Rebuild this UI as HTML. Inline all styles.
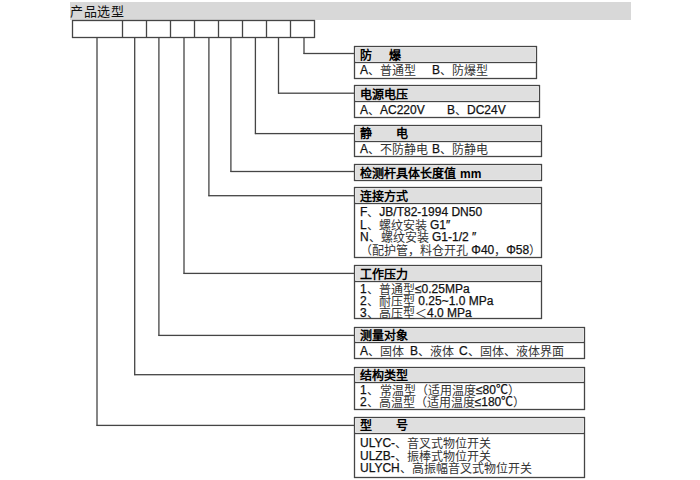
<!DOCTYPE html>
<html lang="zh-CN"><head><meta charset="utf-8">
<style>
html,body{margin:0;padding:0;background:#fff;width:700px;height:480px;overflow:hidden;position:relative;font-family:"Liberation Sans",sans-serif;color:#111;}
svg{position:absolute;left:0;top:0;}
.title{position:absolute;left:70px;top:5px;font-size:13px;line-height:13px;letter-spacing:0.5px;font-weight:500;color:#111;white-space:pre;}
.t{position:absolute;left:360px;font-size:12px;line-height:12px;white-space:pre;color:#111;-webkit-text-stroke:0.25px #111;}
.b{font-weight:bold;color:#000;-webkit-text-stroke:0;}
.c{-webkit-text-stroke:0;color:#333;position:relative;top:1px;}
</style></head><body>
<svg width="700" height="480" viewBox="0 0 700 480" >
<rect x="70" y="2" width="561" height="18" fill="#d8d8d8"/>
<rect x="72.00" y="19.85" width="243.00" height="1.3" fill="#454545"/>
<rect x="72.00" y="36.85" width="243.00" height="1.3" fill="#454545"/>
<rect x="71.85" y="20.00" width="1.3" height="18.00" fill="#454545"/>
<rect x="313.85" y="20.00" width="1.3" height="18.00" fill="#454545"/>
<rect x="121.85" y="20.00" width="1.3" height="18.00" fill="#454545"/>
<rect x="145.85" y="20.00" width="1.3" height="18.00" fill="#454545"/>
<rect x="169.85" y="20.00" width="1.3" height="18.00" fill="#454545"/>
<rect x="193.85" y="20.00" width="1.3" height="18.00" fill="#454545"/>
<rect x="217.85" y="20.00" width="1.3" height="18.00" fill="#454545"/>
<rect x="241.85" y="20.00" width="1.3" height="18.00" fill="#454545"/>
<rect x="265.85" y="20.00" width="1.3" height="18.00" fill="#454545"/>
<rect x="289.85" y="20.00" width="1.3" height="18.00" fill="#454545"/>
<rect x="303.35" y="38.00" width="1.3" height="16.00" fill="#454545"/>
<rect x="303.50" y="52.85" width="51.50" height="1.3" fill="#454545"/>
<rect x="277.85" y="38.00" width="1.3" height="55.70" fill="#454545"/>
<rect x="278.00" y="92.55" width="77.00" height="1.3" fill="#454545"/>
<rect x="254.75" y="38.00" width="1.3" height="96.10" fill="#454545"/>
<rect x="254.90" y="132.95" width="100.10" height="1.3" fill="#454545"/>
<rect x="230.25" y="38.00" width="1.3" height="134.00" fill="#454545"/>
<rect x="230.40" y="170.85" width="124.60" height="1.3" fill="#454545"/>
<rect x="208.25" y="38.00" width="1.3" height="158.20" fill="#454545"/>
<rect x="208.40" y="195.05" width="146.60" height="1.3" fill="#454545"/>
<rect x="183.35" y="38.00" width="1.3" height="235.90" fill="#454545"/>
<rect x="183.50" y="272.75" width="171.50" height="1.3" fill="#454545"/>
<rect x="158.25" y="38.00" width="1.3" height="297.90" fill="#454545"/>
<rect x="158.40" y="334.75" width="196.60" height="1.3" fill="#454545"/>
<rect x="134.05" y="38.00" width="1.3" height="337.20" fill="#454545"/>
<rect x="134.20" y="374.05" width="220.80" height="1.3" fill="#454545"/>
<rect x="96.35" y="38.00" width="1.3" height="387.90" fill="#454545"/>
<rect x="96.50" y="424.75" width="258.50" height="1.3" fill="#454545"/>
<rect x="356" y="48" width="179" height="13" fill="#dfdfdf"/>
<rect x="354.00" y="61.85" width="183.00" height="1.3" fill="#454545"/>
<rect x="354.00" y="45.85" width="183.00" height="1.3" fill="#454545"/>
<rect x="354.00" y="77.85" width="183.00" height="1.3" fill="#454545"/>
<rect x="353.85" y="46.00" width="1.3" height="33.00" fill="#454545"/>
<rect x="535.85" y="46.00" width="1.3" height="33.00" fill="#454545"/>
<rect x="356" y="87" width="182" height="13" fill="#dfdfdf"/>
<rect x="354.00" y="100.85" width="186.00" height="1.3" fill="#454545"/>
<rect x="354.00" y="84.85" width="186.00" height="1.3" fill="#454545"/>
<rect x="354.00" y="116.85" width="186.00" height="1.3" fill="#454545"/>
<rect x="353.85" y="85.00" width="1.3" height="33.00" fill="#454545"/>
<rect x="538.85" y="85.00" width="1.3" height="33.00" fill="#454545"/>
<rect x="356" y="127" width="184" height="13" fill="#dfdfdf"/>
<rect x="354.00" y="140.85" width="188.00" height="1.3" fill="#454545"/>
<rect x="354.00" y="124.85" width="188.00" height="1.3" fill="#454545"/>
<rect x="354.00" y="155.85" width="188.00" height="1.3" fill="#454545"/>
<rect x="353.85" y="125.00" width="1.3" height="32.00" fill="#454545"/>
<rect x="540.85" y="125.00" width="1.3" height="32.00" fill="#454545"/>
<rect x="356" y="166" width="184" height="13" fill="#dfdfdf"/>
<rect x="354.00" y="163.85" width="188.00" height="1.3" fill="#454545"/>
<rect x="354.00" y="179.85" width="188.00" height="1.3" fill="#454545"/>
<rect x="353.85" y="164.00" width="1.3" height="17.00" fill="#454545"/>
<rect x="540.85" y="164.00" width="1.3" height="17.00" fill="#454545"/>
<rect x="356" y="189" width="184" height="13" fill="#dfdfdf"/>
<rect x="354.00" y="202.85" width="188.00" height="1.3" fill="#454545"/>
<rect x="354.00" y="186.85" width="188.00" height="1.3" fill="#454545"/>
<rect x="354.00" y="256.85" width="188.00" height="1.3" fill="#454545"/>
<rect x="353.85" y="187.00" width="1.3" height="71.00" fill="#454545"/>
<rect x="540.85" y="187.00" width="1.3" height="71.00" fill="#454545"/>
<rect x="356" y="267" width="184" height="13" fill="#dfdfdf"/>
<rect x="354.00" y="280.85" width="188.00" height="1.3" fill="#454545"/>
<rect x="354.00" y="264.85" width="188.00" height="1.3" fill="#454545"/>
<rect x="354.00" y="317.85" width="188.00" height="1.3" fill="#454545"/>
<rect x="353.85" y="265.00" width="1.3" height="54.00" fill="#454545"/>
<rect x="540.85" y="265.00" width="1.3" height="54.00" fill="#454545"/>
<rect x="356" y="329" width="227" height="12" fill="#dfdfdf"/>
<rect x="354.00" y="341.85" width="231.00" height="1.3" fill="#454545"/>
<rect x="354.00" y="326.85" width="231.00" height="1.3" fill="#454545"/>
<rect x="354.00" y="357.85" width="231.00" height="1.3" fill="#454545"/>
<rect x="353.85" y="327.00" width="1.3" height="32.00" fill="#454545"/>
<rect x="583.85" y="327.00" width="1.3" height="32.00" fill="#454545"/>
<rect x="356" y="369" width="227" height="12" fill="#dfdfdf"/>
<rect x="354.00" y="381.85" width="231.00" height="1.3" fill="#454545"/>
<rect x="354.00" y="366.85" width="231.00" height="1.3" fill="#454545"/>
<rect x="354.00" y="408.85" width="231.00" height="1.3" fill="#454545"/>
<rect x="353.85" y="367.00" width="1.3" height="43.00" fill="#454545"/>
<rect x="583.85" y="367.00" width="1.3" height="43.00" fill="#454545"/>
<rect x="356" y="419" width="227" height="13" fill="#dfdfdf"/>
<rect x="354.00" y="432.85" width="231.00" height="1.3" fill="#454545"/>
<rect x="354.00" y="416.85" width="231.00" height="1.3" fill="#454545"/>
<rect x="354.00" y="476.85" width="231.00" height="1.3" fill="#454545"/>
<rect x="353.85" y="417.00" width="1.3" height="61.00" fill="#454545"/>
<rect x="583.85" y="417.00" width="1.3" height="61.00" fill="#454545"/>
</svg>
<div class="title">产品选型</div>
<div class="t b" style="left:360px;top:50px">防</div>
<div class="t b" style="left:389px;top:50px">爆</div>
<div class="t" style="left:360px;top:64px">A<span class="c">、普通型</span></div>
<div class="t" style="left:432px;top:64px">B<span class="c">、防爆型</span></div>
<div class="t b" style="left:360px;top:89px">电源电压</div>
<div class="t" style="left:360px;top:104px">A<span class="c">、</span>AC220V</div>
<div class="t" style="left:447px;top:104px">B<span class="c">、</span>DC24V</div>
<div class="t b" style="left:360px;top:128px">静</div>
<div class="t b" style="left:395.5px;top:128px">电</div>
<div class="t" style="left:360px;top:143px">A<span class="c">、不防静电</span></div>
<div class="t" style="left:432px;top:143px">B<span class="c">、防静电</span></div>
<div class="t b" style="left:360px;top:168px">检测杆具体长度值</div>
<div class="t b" style="left:460px;top:168px">mm</div>
<div class="t b" style="left:360px;top:191px">连接方式</div>
<div class="t" style="left:360px;top:206px">F<span class="c">、</span>JB/T82-1994 DN50</div>
<div class="t" style="left:360px;top:219px">L<span class="c">、螺纹安装</span> G1″</div>
<div class="t" style="left:360px;top:231px">N<span class="c">、螺纹安装</span> G1-1/2 ″</div>
<div class="t" style="left:360px;top:244px"><span class="c">（配护管，料仓开孔</span> Φ40<span class="c">，</span>Φ58<span class="c">）</span></div>
<div class="t b" style="left:360px;top:269px">工作压力</div>
<div class="t" style="left:360px;top:283px">1<span class="c">、</span></div>
<div class="t" style="left:379px;top:283px"><span class="c">普通型</span>≤0.25MPa</div>
<div class="t" style="left:360px;top:295px">2<span class="c">、</span></div>
<div class="t" style="left:379px;top:295px"><span class="c">耐压型</span> 0.25~1.0 MPa</div>
<div class="t" style="left:360px;top:307px">3<span class="c">、</span></div>
<div class="t" style="left:379px;top:307px"><span class="c">高压型＜</span>4.0 MPa</div>
<div class="t b" style="left:360px;top:330px">测量对象</div>
<div class="t" style="left:360px;top:345px">A<span class="c">、固体</span></div>
<div class="t" style="left:410px;top:345px">B<span class="c">、液体</span></div>
<div class="t" style="left:459px;top:345px">C<span class="c">、固体、液体界面</span></div>
<div class="t b" style="left:360px;top:370px">结构类型</div>
<div class="t" style="left:360px;top:384px">1<span class="c">、</span></div>
<div class="t" style="left:380px;top:384px"><span class="c">常温型（适用温度</span>≤80℃<span class="c">）</span></div>
<div class="t" style="left:360px;top:396px">2<span class="c">、高温型（适用温度</span>≤180℃<span class="c">）</span></div>
<div class="t b" style="left:360px;top:420px">型</div>
<div class="t b" style="left:395.5px;top:420px">号</div>
<div class="t" style="left:360px;top:437px">ULYC-<span class="c">、音叉式物位开关</span></div>
<div class="t" style="left:360px;top:449.5px">ULZB-<span class="c">、振棒式物位开关</span></div>
<div class="t" style="left:360px;top:462px">ULYCH<span class="c">、高振幅音叉式物位开关</span></div>
</body></html>
